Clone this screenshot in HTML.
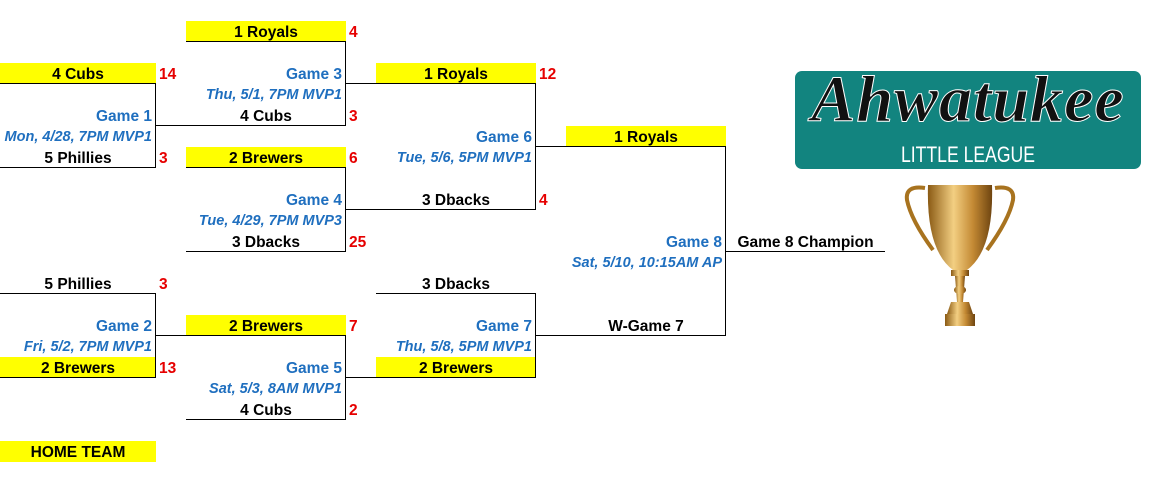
<!DOCTYPE html>
<html><head><style>
body{margin:0;width:1160px;height:479px;background:#fff;position:relative;overflow:hidden;font-family:"Liberation Sans",Arial,sans-serif;}
.c{position:absolute;height:21px;line-height:23px;font-weight:bold;font-size:15.5px;color:#000;text-align:center;white-space:nowrap;box-sizing:border-box;}
.y{background:#ffff00;}
.b{border-bottom:1px solid #000;}
.g{color:#1f6fbf;text-align:right;padding-right:3px;}
.d{color:#1f6fbf;text-align:right;padding-right:3px;font-style:italic;font-size:14.5px;}
.s{color:#e60000;text-align:left;padding-left:4px;}
.h{position:absolute;height:1px;background:#000;}
.v{position:absolute;width:1px;background:#000;}
</style></head><body>
<div class="c y b" style="left:0;top:63px;width:156px;">4 Cubs</div><div class="c s" style="left:155px;top:63px;width:30px;">14</div>
<div class="c g" style="left:0;top:105px;width:155px;">Game 1</div>
<div class="c d" style="left:0;top:126px;width:155px;">Mon, 4/28, 7PM MVP1</div>
<div class="c b" style="left:0;top:147px;width:156px;">5 Phillies</div><div class="c s" style="left:155px;top:147px;width:30px;">3</div>
<div class="v" style="left:155px;top:84px;height:84px;"></div>

<div class="c b" style="left:0;top:273px;width:156px;">5 Phillies</div><div class="c s" style="left:155px;top:273px;width:30px;">3</div>
<div class="c g" style="left:0;top:315px;width:155px;">Game 2</div>
<div class="c d" style="left:0;top:336px;width:155px;">Fri, 5/2, 7PM MVP1</div>
<div class="c y b" style="left:0;top:357px;width:156px;">2 Brewers</div><div class="c s" style="left:155px;top:357px;width:30px;">13</div>
<div class="v" style="left:155px;top:294px;height:84px;"></div>
<div class="c y" style="left:0;top:441px;width:156px;">HOME TEAM</div>

<div class="c y b" style="left:186px;top:21px;width:160px;">1 Royals</div><div class="c s" style="left:345px;top:21px;width:30px;">4</div>
<div class="c g" style="left:186px;top:63px;width:159px;">Game 3</div>
<div class="c d" style="left:186px;top:84px;width:159px;">Thu, 5/1, 7PM MVP1</div>
<div class="c" style="left:186px;top:105px;width:160px;">4 Cubs</div><div class="c s" style="left:345px;top:105px;width:30px;">3</div>
<div class="h" style="left:155px;top:125px;width:191px;"></div>
<div class="v" style="left:345px;top:42px;height:84px;"></div>

<div class="c y b" style="left:186px;top:147px;width:160px;">2 Brewers</div><div class="c s" style="left:345px;top:147px;width:30px;">6</div>
<div class="c g" style="left:186px;top:189px;width:159px;">Game 4</div>
<div class="c d" style="left:186px;top:210px;width:159px;">Tue, 4/29, 7PM MVP3</div>
<div class="c b" style="left:186px;top:231px;width:160px;">3 Dbacks</div><div class="c s" style="left:345px;top:231px;width:30px;">25</div>
<div class="v" style="left:345px;top:168px;height:84px;"></div>

<div class="c y" style="left:186px;top:315px;width:160px;">2 Brewers</div><div class="c s" style="left:345px;top:315px;width:30px;">7</div>
<div class="h" style="left:155px;top:335px;width:191px;"></div>
<div class="c g" style="left:186px;top:357px;width:159px;">Game 5</div>
<div class="c d" style="left:186px;top:378px;width:159px;">Sat, 5/3, 8AM MVP1</div>
<div class="c b" style="left:186px;top:399px;width:160px;">4 Cubs</div><div class="c s" style="left:345px;top:399px;width:30px;">2</div>
<div class="v" style="left:345px;top:336px;height:84px;"></div>

<div class="c y" style="left:376px;top:63px;width:160px;">1 Royals</div><div class="c s" style="left:535px;top:63px;width:30px;">12</div>
<div class="h" style="left:345px;top:83px;width:191px;"></div>
<div class="c g" style="left:376px;top:126px;width:159px;">Game 6</div>
<div class="c d" style="left:376px;top:147px;width:159px;">Tue, 5/6, 5PM MVP1</div>
<div class="c" style="left:376px;top:189px;width:160px;">3 Dbacks</div><div class="c s" style="left:535px;top:189px;width:30px;">4</div>
<div class="h" style="left:345px;top:209px;width:191px;"></div>
<div class="v" style="left:535px;top:84px;height:126px;"></div>

<div class="c b" style="left:376px;top:273px;width:160px;">3 Dbacks</div>
<div class="c g" style="left:376px;top:315px;width:159px;">Game 7</div>
<div class="c d" style="left:376px;top:336px;width:159px;">Thu, 5/8, 5PM MVP1</div>
<div class="c y" style="left:376px;top:357px;width:160px;">2 Brewers</div>
<div class="h" style="left:345px;top:377px;width:191px;"></div>
<div class="v" style="left:535px;top:294px;height:84px;"></div>

<div class="c y" style="left:566px;top:126px;width:160px;">1 Royals</div>
<div class="h" style="left:535px;top:146px;width:191px;"></div>
<div class="c g" style="left:566px;top:231px;width:159px;">Game 8</div>
<div class="c d" style="left:566px;top:252px;width:159px;">Sat, 5/10, 10:15AM AP</div>
<div class="c" style="left:566px;top:315px;width:160px;">W-Game 7</div>
<div class="h" style="left:535px;top:335px;width:191px;"></div>
<div class="v" style="left:725px;top:147px;height:189px;"></div>

<div class="c b" style="left:726px;top:231px;width:159px;">Game 8 Champion</div>

<div style="position:absolute;left:795px;top:71px;width:346px;height:98px;background:#12847f;border-radius:7px;"></div>
<div style="position:absolute;left:795px;top:62px;width:346px;text-align:center;font-family:'Liberation Serif',serif;font-style:italic;font-weight:bold;font-size:66px;color:#111;-webkit-text-stroke:1px #fff;letter-spacing:1px;">Ahwatukee</div>
<div style="position:absolute;left:795px;top:142px;width:346px;text-align:center;font-size:22px;color:#fff;transform:scaleX(0.8);">LITTLE LEAGUE</div>

<svg style="position:absolute;left:895px;top:180px;" width="130" height="150" viewBox="0 0 130 150">
<defs><linearGradient id="gg" x1="0" x2="1"><stop offset="0" stop-color="#8a5a14"/><stop offset="0.4" stop-color="#f3cf82"/><stop offset="0.7" stop-color="#c48a34"/><stop offset="1" stop-color="#6e4410"/></linearGradient></defs>
<path d="M30 8 Q10 5 12 20 Q16 40 38 70" fill="none" stroke="#a8731f" stroke-width="4"/>
<path d="M100 8 Q120 5 118 20 Q114 40 92 70" fill="none" stroke="#a8731f" stroke-width="4"/>
<path d="M33 5 L97 5 Q99 70 72 90 L58 90 Q31 70 33 5Z" fill="url(#gg)"/>
<rect x="56" y="90" width="18" height="6" fill="url(#gg)"/>
<path d="M60 96 L70 96 L68 122 L62 122Z" fill="url(#gg)"/>
<ellipse cx="65" cy="110" rx="6" ry="4" fill="url(#gg)"/>
<path d="M56 122 L74 122 L78 134 L52 134Z" fill="url(#gg)"/>
<rect x="50" y="134" width="30" height="12" fill="url(#gg)"/>
</svg>
</body></html>
